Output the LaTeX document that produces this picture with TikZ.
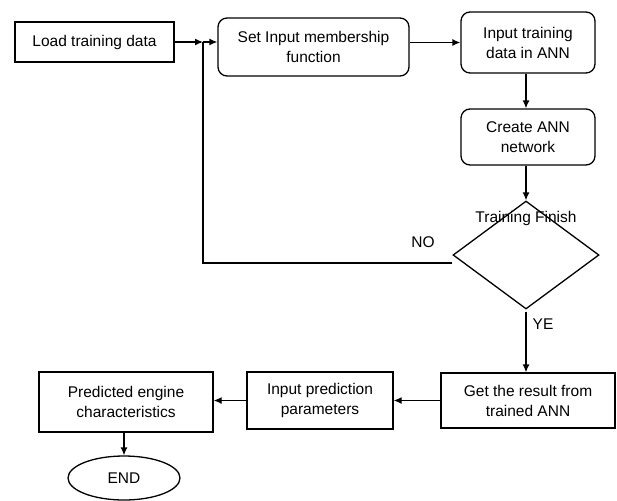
\documentclass[tikz,border=0pt]{standalone}
\usepackage{fontspec}
\setmainfont{Liberation Sans}
\usetikzlibrary{shapes.geometric,arrows.meta}
\begin{document}
\begin{tikzpicture}[x=1pt, y=-1pt,
		every node/.style={align=center, font=\fontsize{15.5pt}{20pt}\selectfont, inner sep=0pt},
		box/.style={draw, rectangle, line width=1.3pt},
		rbox/.style={draw, rectangle, rounded corners=9pt, line width=1.3pt},
		decision/.style={draw, diamond, line width=1.3pt, minimum width=146pt, minimum height=108pt},
		term/.style={draw, ellipse, line width=1.3pt, minimum width=112pt, minimum height=44pt},
		arrow/.style={-{Latex[length=8pt,width=7pt]}, line width=1.3pt},
	]
	\useasboundingbox (0,0) rectangle (617,500);

	\node[box, minimum width=159pt, minimum height=40pt] (load) at (94.5,42) {Load training data};
	\node[rbox, minimum width=191pt, minimum height=58pt] (setin) at (313.5,47) {Set Input membership\\function};
	\node[rbox, minimum width=134pt, minimum height=61pt] (input) at (528,42.5) {Input training\\data in ANN};
	\node[rbox, minimum width=134pt, minimum height=56pt] (create) at (528,137) {Create ANN\\network};
	\node[decision, label={[label distance=-26pt]north:Training Finish}] (dec) at (526,255) {};
	\node (no) at (423,242) {NO};
	\node (ye) at (543,324) {YE};
	\node[box, minimum width=174pt, minimum height=55pt] (get) at (528,400.5) {Get the result from\\trained ANN};
	\node[box, minimum width=146pt, minimum height=57pt] (inpp) at (320,400.5) {Input prediction\\parameters};
	\node[box, minimum width=174pt, minimum height=60pt] (pred) at (126,402) {Predicted engine\\characteristics};
	\node[term] (end) at (124,478) {END};
	\coordinate (jn) at (203,42);

	\draw[arrow] (load.east) -- (jn);
	\draw[arrow] (jn) -- (jn -| setin.west);
	\draw[arrow] (setin.east |- input.west) -- (input.west);
	\draw[arrow] (input.south -| dec.north) -- (create.north -| dec.north);
	\draw[arrow] (create.south -| dec.north) -- (dec.north);
	\draw[line width=1.3pt] ([yshift=-8pt]dec.west) -| (jn);
	\draw[arrow] ([yshift=-2pt]dec.south) -- (get.north -| dec.south);
	\draw[arrow] (get.west) -- (get.west -| inpp.east);
	\draw[arrow] (inpp.west) -- (inpp.west -| pred.east);
	\draw[arrow] (pred.south -| end.north) -- (end.north);
\end{tikzpicture}
\end{document}
